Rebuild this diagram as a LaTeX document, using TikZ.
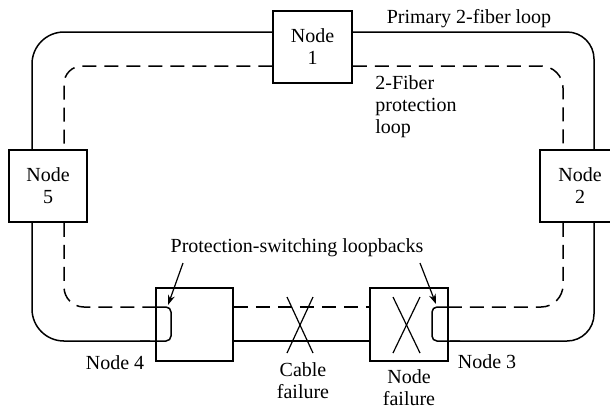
\documentclass[tikz,border=0pt]{standalone}
\usepackage{fontspec}
\newfontfamily\tms{LiberationSerif}[Extension=.ttf,UprightFont=*-Regular]
\usetikzlibrary{arrows.meta}
\begin{document}
\begin{tikzpicture}[x=0.5pt,y=-0.5pt,
  box/.style={draw, line width=0.75pt, inner sep=0pt, align=center, font=\tms\fontsize{10}{11}\selectfont},
  lbl/.style={inner sep=0pt, align=center, font=\tms\fontsize{10}{11}\selectfont},
  fiber/.style={line width=0.75pt},
  prot/.style={line width=0.75pt, dash pattern=on 7pt off 4pt},
  xmark/.style={line width=0.6pt},
  pointer/.style={line width=0.6pt, -{Stealth[length=5pt,width=3.5pt]}}]
\useasboundingbox (0,0) rectangle (610,409);
% nodes
\node[box, minimum width=39.5pt, minimum height=36pt] (n1) at (312.5,47) {Node\\1};
\node[box, minimum width=39pt, minimum height=36pt] (n5) at (48,186) {Node\\5};
\node[box, minimum width=40pt, minimum height=36pt] (n2) at (580,186) {Node\\2};
\node[box, minimum width=38.5pt, minimum height=36.5pt] (n4) at (194.5,324.5) {};
\node[box, minimum width=39pt, minimum height=36.5pt] (n3) at (409,324.5) {};
% primary loop (solid)
\draw[fiber, rounded corners=16pt] (n1.west |- 0,32) -- (32,32) -- (n5.north -| 32,0);
\draw[fiber, rounded corners=16pt] (n5.south -| 32,0) -- (32,341) -- (150,341);
\draw[fiber, rounded corners=2.5pt] (140,341) -- (171,341) -- (171,307) -- (n4.west |- 0,307);
\draw[fiber] (n4.east |- 0,341) -- (n3.west |- 0,341);
\draw[fiber, rounded corners=2.5pt] (n3.east |- 0,307) -- (432,307) -- (432,341) -- (460,341);
\draw[fiber, rounded corners=13.5pt] (450,341) -- (594,341) -- (n2.south -| 594,0);
\draw[fiber, rounded corners=13.5pt] (n2.north -| 594,0) -- (594,32) -- (n1.east |- 0,32);
% protection loop (dashed)
\draw[prot, rounded corners=9pt] (n1.west |- 0,66) -- (64,66) -- (n5.north -| 64,0);
\draw[prot, rounded corners=10pt] (n5.south -| 64,0) -- (64,307) -- (n4.west |- 0,307);
\draw[prot] (n4.east |- 0,307) -- (n3.west |- 0,307);
\draw[prot, rounded corners=11pt] (n1.east |- 0,66) -- (563,66) -- (n2.north -| 563,0);
\draw[prot, rounded corners=11pt] (n2.south -| 563,0) -- (563,307) -- (n3.east |- 0,307);
% failure marks
\draw[xmark] (287,297) -- (313,353);
\draw[xmark] (313,297) -- (287,353);
\draw[xmark] (393,297) -- (420,353);
\draw[xmark] (420,297) -- (393,353);
% labels
\node[lbl] (lprim) at (469,19) {Primary 2-fiber loop};
\node[lbl, align=left, anchor=north west] (lprot) at (375,75) {2-Fiber\\protection\\loop};
\node[lbl] (lsw) at (297,248) {Protection-switching loopbacks};
\node[lbl] (l4) at (115,363) {Node 4};
\node[lbl] (l3) at (487,362) {Node 3};
\node[lbl] (lcab) at (303,381) {Cable\\failure};
\node[lbl] (lnf) at (409,388) {Node\\failure};
% pointers
\coordinate (a1s) at (183,263);
\coordinate (a1e) at (168,305);
\coordinate (a2s) at (420,263);
\coordinate (a2e) at (436,304);
\draw[pointer] (a1s) -- (a1e);
\draw[pointer] (a2s) -- (a2e);
\end{tikzpicture}
\end{document}
